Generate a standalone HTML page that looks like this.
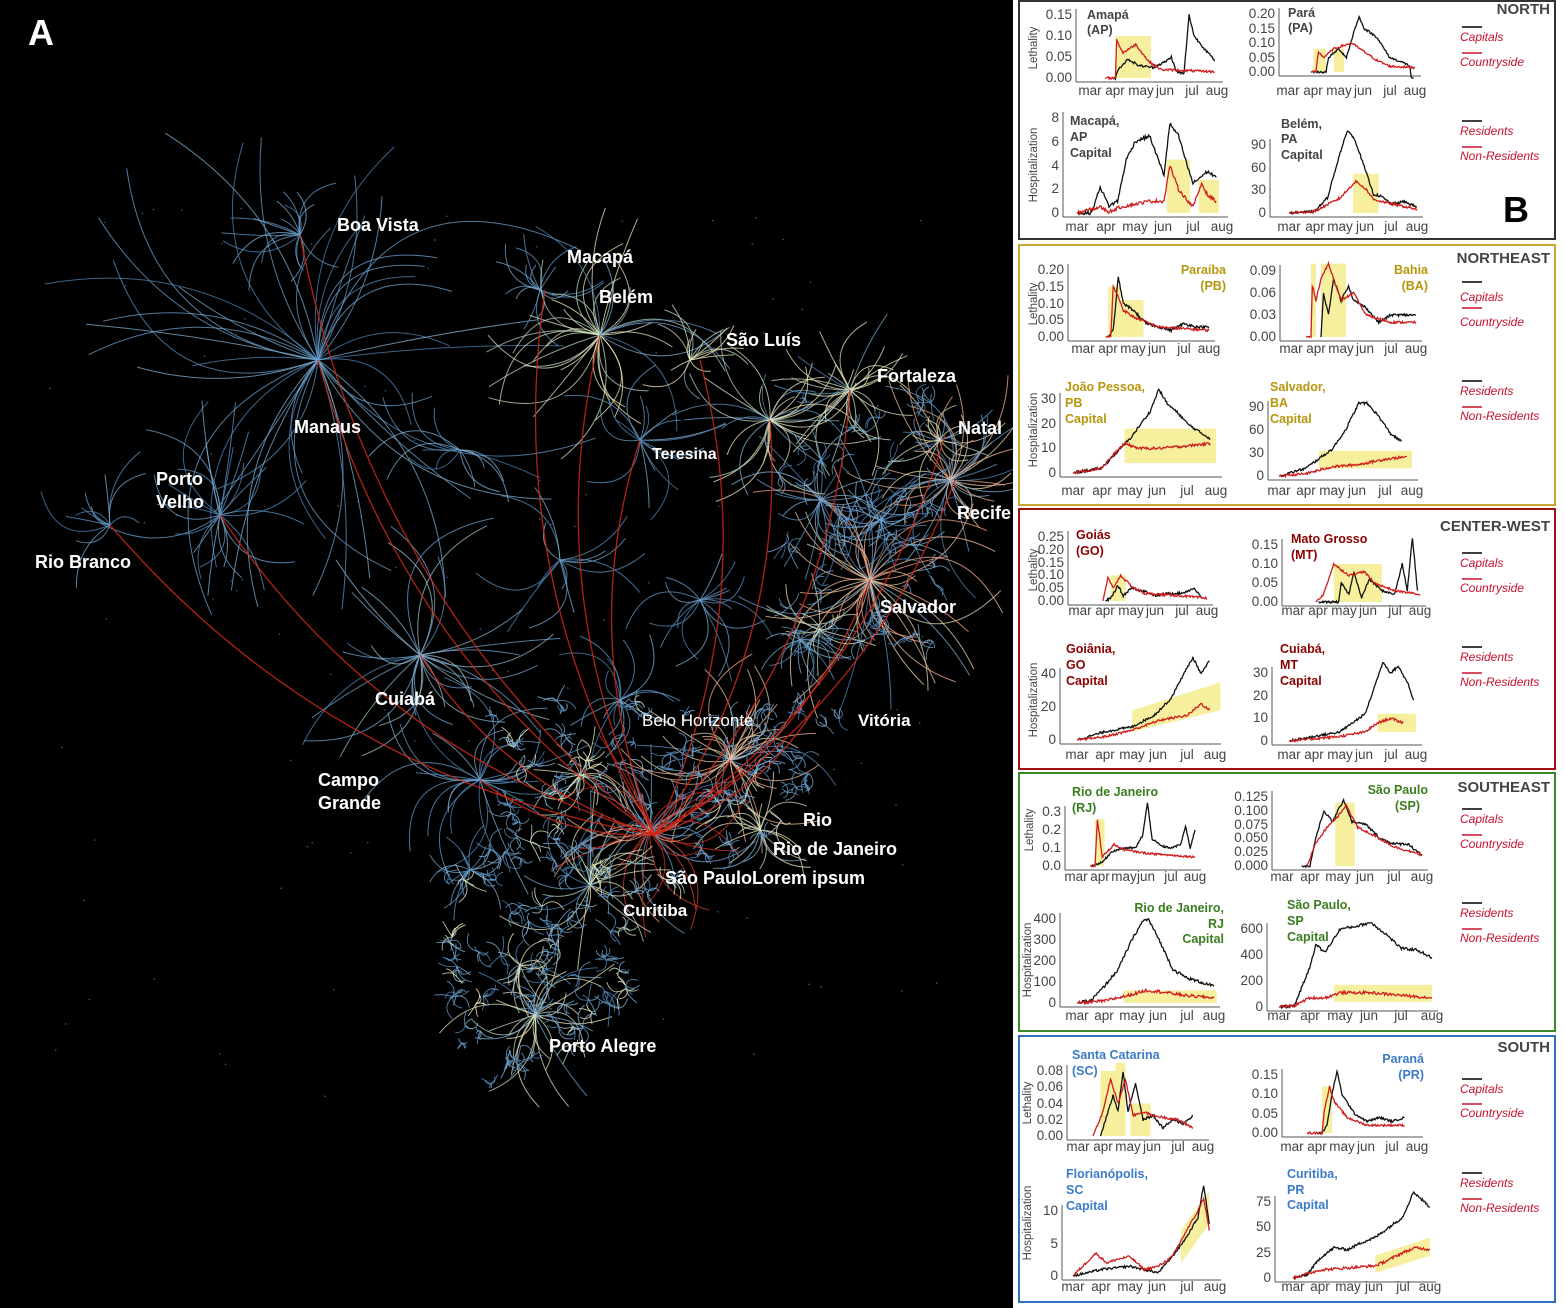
<!DOCTYPE html>
<html><head><meta charset="utf-8">
<style>
html,body{margin:0;padding:0;background:#000;}
svg{display:block}
.ml{font-family:"Liberation Sans",sans-serif;font-weight:bold;font-size:18px;fill:#fff}
.tk{font-family:"Liberation Sans",sans-serif;font-size:13.5px;fill:#444}
.ax{font-family:"Liberation Sans",sans-serif;font-size:11.5px;fill:#444}
.ti{font-family:"Liberation Sans",sans-serif;font-size:12.5px;font-weight:bold}
.rg{font-family:"Liberation Sans",sans-serif;font-size:15px;font-weight:bold;fill:#444;text-anchor:end}
.lg{font-family:"Liberation Sans",sans-serif;font-size:12px;font-style:italic;fill:#c8102e}
.r{text-anchor:end}
.m{text-anchor:middle}
</style></head>
<body>
<svg id="S" width="1565" height="1308" viewBox="0 0 1565 1308" xmlns="http://www.w3.org/2000/svg">
<rect x="0" y="0" width="1565" height="1308" fill="#000"/>
<g id="map"></g>
<g id="maplabels">
<text x="28" y="45" class="ml" style="font-size:36px">A</text>
<text x="337" y="231" class="ml">Boa Vista</text>
<text x="567" y="263" class="ml">Macapá</text>
<text x="599" y="303" class="ml">Belém</text>
<text x="726" y="346" class="ml">São Luís</text>
<text x="877" y="382" class="ml">Fortaleza</text>
<text x="958" y="434" class="ml">Natal</text>
<text x="957" y="519" class="ml">Recife</text>
<text x="294" y="433" class="ml">Manaus</text>
<text x="652" y="459" class="ml" style="font-size:16px">Teresina</text>
<text x="156" y="485" class="ml">Porto</text>
<text x="156" y="508" class="ml">Velho</text>
<text x="35" y="568" class="ml">Rio Branco</text>
<text x="880" y="613" class="ml">Salvador</text>
<text x="375" y="705" class="ml">Cuiabá</text>
<text x="318" y="786" class="ml">Campo</text>
<text x="318" y="809" class="ml">Grande</text>
<text x="642" y="726" class="ml" style="font-weight:normal;font-size:17px">Belo Horizonte</text>
<text x="858" y="726" class="ml" style="font-size:17px">Vitória</text>
<text x="803" y="826" class="ml">Rio</text>
<text x="773" y="855" class="ml">Rio de Janeiro</text>
<text x="665" y="884" class="ml">São PauloLorem ipsum</text>
<text x="623" y="916" class="ml" style="font-size:17px">Curitiba</text>
<text x="549" y="1052" class="ml">Porto Alegre</text>
</g>
<rect x="1013" y="0" width="552" height="1308" fill="#fff"/>
<rect x="1019" y="1" width="536" height="238" fill="none" stroke="#333" stroke-width="2"/>
<rect x="1019" y="245" width="536" height="260" fill="none" stroke="#c8a830" stroke-width="2"/>
<rect x="1019" y="509" width="536" height="260" fill="none" stroke="#a01010" stroke-width="2"/>
<rect x="1019" y="773" width="536" height="258" fill="none" stroke="#3a8a2a" stroke-width="2"/>
<rect x="1019" y="1036" width="536" height="266" fill="none" stroke="#3070c0" stroke-width="2"/>
<g id="charts"></g>
<g id="txt">
<text x="1550" y="14" class="rg">NORTH</text>
<text x="1550" y="263" class="rg">NORTHEAST</text>
<text x="1550" y="531" class="rg">CENTER-WEST</text>
<text x="1550" y="792" class="rg">SOUTHEAST</text>
<text x="1550" y="1052" class="rg">SOUTH</text>
<text x="1503" y="222" style="font-family:'Liberation Sans',sans-serif;font-weight:bold;font-size:36px;fill:#000">B</text>
<g stroke-width="1.5">
<line x1="1462" y1="27" x2="1482" y2="27" stroke="#000"/><line x1="1462" y1="53" x2="1482" y2="53" stroke="#c8102e"/>
<line x1="1462" y1="121" x2="1482" y2="121" stroke="#000"/><line x1="1462" y1="147" x2="1482" y2="147" stroke="#c8102e"/>
<line x1="1462" y1="282" x2="1482" y2="282" stroke="#000"/><line x1="1462" y1="308" x2="1482" y2="308" stroke="#c8102e"/>
<line x1="1462" y1="381" x2="1482" y2="381" stroke="#000"/><line x1="1462" y1="407" x2="1482" y2="407" stroke="#c8102e"/>
<line x1="1462" y1="553" x2="1482" y2="553" stroke="#000"/><line x1="1462" y1="579" x2="1482" y2="579" stroke="#c8102e"/>
<line x1="1462" y1="647" x2="1482" y2="647" stroke="#000"/><line x1="1462" y1="673" x2="1482" y2="673" stroke="#c8102e"/>
<line x1="1462" y1="809" x2="1482" y2="809" stroke="#000"/><line x1="1462" y1="835" x2="1482" y2="835" stroke="#c8102e"/>
<line x1="1462" y1="903" x2="1482" y2="903" stroke="#000"/><line x1="1462" y1="929" x2="1482" y2="929" stroke="#c8102e"/>
<line x1="1462" y1="1079" x2="1482" y2="1079" stroke="#000"/><line x1="1462" y1="1104" x2="1482" y2="1104" stroke="#c8102e"/>
<line x1="1462" y1="1173" x2="1482" y2="1173" stroke="#000"/><line x1="1462" y1="1199" x2="1482" y2="1199" stroke="#c8102e"/>
</g>
<text x="1460" y="41" class="lg">Capitals</text><text x="1460" y="66" class="lg">Countryside</text>
<text x="1460" y="135" class="lg">Residents</text><text x="1460" y="160" class="lg">Non-Residents</text>
<text x="1460" y="301" class="lg">Capitals</text><text x="1460" y="326" class="lg">Countryside</text>
<text x="1460" y="395" class="lg">Residents</text><text x="1460" y="420" class="lg">Non-Residents</text>
<text x="1460" y="567" class="lg">Capitals</text><text x="1460" y="592" class="lg">Countryside</text>
<text x="1460" y="661" class="lg">Residents</text><text x="1460" y="686" class="lg">Non-Residents</text>
<text x="1460" y="823" class="lg">Capitals</text><text x="1460" y="848" class="lg">Countryside</text>
<text x="1460" y="917" class="lg">Residents</text><text x="1460" y="942" class="lg">Non-Residents</text>
<text x="1460" y="1093" class="lg">Capitals</text><text x="1460" y="1117" class="lg">Countryside</text>
<text x="1460" y="1187" class="lg">Residents</text><text x="1460" y="1212" class="lg">Non-Residents</text>
<text class="ax m" transform="translate(1037,48) rotate(-90)">Lethality</text>
<text class="ax m" transform="translate(1037,165) rotate(-90)">Hospitalization</text>
<text class="ax m" transform="translate(1037,304) rotate(-90)">Lethality</text>
<text class="ax m" transform="translate(1037,430) rotate(-90)">Hospitalization</text>
<text class="ax m" transform="translate(1037,570) rotate(-90)">Lethality</text>
<text class="ax m" transform="translate(1037,700) rotate(-90)">Hospitalization</text>
<text class="ax m" transform="translate(1033,830) rotate(-90)">Lethality</text>
<text class="ax m" transform="translate(1031,960) rotate(-90)">Hospitalization</text>
<text class="ax m" transform="translate(1031,1103) rotate(-90)">Lethality</text>
<text class="ax m" transform="translate(1031,1223) rotate(-90)">Hospitalization</text>
<g class="ti" style="fill:#444">
<text x="1087" y="19">Amapá</text><text x="1087" y="34">(AP)</text>
<text x="1288" y="17">Pará</text><text x="1288" y="32">(PA)</text>
<text x="1070" y="125">Macapá,</text><text x="1070" y="141">AP</text><text x="1070" y="157">Capital</text>
<text x="1281" y="128">Belém,</text><text x="1281" y="143">PA</text><text x="1281" y="159">Capital</text>
</g>
<g class="ti" style="fill:#b8960c">
<text x="1226" y="274" class="r">Paraíba</text><text x="1226" y="290" class="r">(PB)</text>
<text x="1428" y="274" class="r">Bahia</text><text x="1428" y="290" class="r">(BA)</text>
<text x="1065" y="391">João Pessoa,</text><text x="1065" y="407">PB</text><text x="1065" y="423">Capital</text>
<text x="1270" y="391">Salvador,</text><text x="1270" y="407">BA</text><text x="1270" y="423">Capital</text>
</g>
<g class="ti" style="fill:#8b0000">
<text x="1076" y="539">Goiás</text><text x="1076" y="555">(GO)</text>
<text x="1291" y="543">Mato Grosso</text><text x="1291" y="559">(MT)</text>
<text x="1066" y="653">Goiânia,</text><text x="1066" y="669">GO</text><text x="1066" y="685">Capital</text>
<text x="1280" y="653">Cuiabá,</text><text x="1280" y="669">MT</text><text x="1280" y="685">Capital</text>
</g>
<g class="ti" style="fill:#3a7d1e">
<text x="1072" y="796">Rio de Janeiro</text><text x="1072" y="812">(RJ)</text>
<text x="1428" y="794" class="r">São Paulo</text><text x="1420" y="810" class="r">(SP)</text>
<text x="1224" y="912" class="r">Rio de Janeiro,</text><text x="1224" y="928" class="r">RJ</text><text x="1224" y="943" class="r">Capital</text>
<text x="1287" y="909">São Paulo,</text><text x="1287" y="925">SP</text><text x="1287" y="941">Capital</text>
</g>
<g class="ti" style="fill:#3b7bc8">
<text x="1072" y="1059">Santa Catarina</text><text x="1072" y="1075">(SC)</text>
<text x="1424" y="1063" class="r">Paraná</text><text x="1424" y="1079" class="r">(PR)</text>
<text x="1066" y="1178">Florianópolis,</text><text x="1066" y="1194">SC</text><text x="1066" y="1210">Capital</text>
<text x="1287" y="1178">Curitiba,</text><text x="1287" y="1194">PR</text><text x="1287" y="1209">Capital</text>
</g>
<g class="tk m">
<text y="95"><tspan x="1090">mar</tspan><tspan x="1115">apr</tspan><tspan x="1141">may</tspan><tspan x="1165">jun</tspan><tspan x="1192">jul</tspan><tspan x="1217">aug</tspan></text>
<text y="95"><tspan x="1288">mar</tspan><tspan x="1313">apr</tspan><tspan x="1339">may</tspan><tspan x="1363">jun</tspan><tspan x="1390">jul</tspan><tspan x="1415">aug</tspan></text>
<text y="231"><tspan x="1077">mar</tspan><tspan x="1106">apr</tspan><tspan x="1135">may</tspan><tspan x="1163">jun</tspan><tspan x="1193">jul</tspan><tspan x="1222">aug</tspan></text>
<text y="231"><tspan x="1289">mar</tspan><tspan x="1315">apr</tspan><tspan x="1340">may</tspan><tspan x="1365">jun</tspan><tspan x="1391">jul</tspan><tspan x="1417">aug</tspan></text>
<text y="353"><tspan x="1083">mar</tspan><tspan x="1108">apr</tspan><tspan x="1133">may</tspan><tspan x="1157">jun</tspan><tspan x="1184">jul</tspan><tspan x="1209">aug</tspan></text>
<text y="353"><tspan x="1291">mar</tspan><tspan x="1316">apr</tspan><tspan x="1341">may</tspan><tspan x="1365">jun</tspan><tspan x="1391">jul</tspan><tspan x="1416">aug</tspan></text>
<text y="495"><tspan x="1073">mar</tspan><tspan x="1102">apr</tspan><tspan x="1130">may</tspan><tspan x="1157">jun</tspan><tspan x="1187">jul</tspan><tspan x="1216">aug</tspan></text>
<text y="495"><tspan x="1279">mar</tspan><tspan x="1306">apr</tspan><tspan x="1332">may</tspan><tspan x="1357">jun</tspan><tspan x="1385">jul</tspan><tspan x="1412">aug</tspan></text>
<text y="615"><tspan x="1080">mar</tspan><tspan x="1105">apr</tspan><tspan x="1131">may</tspan><tspan x="1155">jun</tspan><tspan x="1182">jul</tspan><tspan x="1207">aug</tspan></text>
<text y="615"><tspan x="1293">mar</tspan><tspan x="1318">apr</tspan><tspan x="1344">may</tspan><tspan x="1368">jun</tspan><tspan x="1395">jul</tspan><tspan x="1420">aug</tspan></text>
<text y="759"><tspan x="1077">mar</tspan><tspan x="1105">apr</tspan><tspan x="1132">may</tspan><tspan x="1158">jun</tspan><tspan x="1187">jul</tspan><tspan x="1215">aug</tspan></text>
<text y="759"><tspan x="1289">mar</tspan><tspan x="1314">apr</tspan><tspan x="1340">may</tspan><tspan x="1364">jun</tspan><tspan x="1391">jul</tspan><tspan x="1416">aug</tspan></text>
<text y="881"><tspan x="1076">mar</tspan><tspan x="1100">apr</tspan><tspan x="1124">may</tspan><tspan x="1146">jun</tspan><tspan x="1171">jul</tspan><tspan x="1195">aug</tspan></text>
<text y="881"><tspan x="1282">mar</tspan><tspan x="1310">apr</tspan><tspan x="1338">may</tspan><tspan x="1365">jun</tspan><tspan x="1394">jul</tspan><tspan x="1422">aug</tspan></text>
<text y="1020"><tspan x="1077">mar</tspan><tspan x="1104">apr</tspan><tspan x="1132">may</tspan><tspan x="1158">jun</tspan><tspan x="1187">jul</tspan><tspan x="1214">aug</tspan></text>
<text y="1020"><tspan x="1279">mar</tspan><tspan x="1310">apr</tspan><tspan x="1340">may</tspan><tspan x="1369">jun</tspan><tspan x="1401">jul</tspan><tspan x="1432">aug</tspan></text>
<text y="1151"><tspan x="1078">mar</tspan><tspan x="1103">apr</tspan><tspan x="1128">may</tspan><tspan x="1152">jun</tspan><tspan x="1178">jul</tspan><tspan x="1203">aug</tspan></text>
<text y="1151"><tspan x="1292">mar</tspan><tspan x="1317">apr</tspan><tspan x="1342">may</tspan><tspan x="1366">jun</tspan><tspan x="1392">jul</tspan><tspan x="1417">aug</tspan></text>
<text y="1291"><tspan x="1073">mar</tspan><tspan x="1101">apr</tspan><tspan x="1130">may</tspan><tspan x="1157">jun</tspan><tspan x="1187">jul</tspan><tspan x="1215">aug</tspan></text>
<text y="1291"><tspan x="1293">mar</tspan><tspan x="1320">apr</tspan><tspan x="1348">may</tspan><tspan x="1374">jun</tspan><tspan x="1403">jul</tspan><tspan x="1430">aug</tspan></text>
</g>
<g class="tk r">
<text x="1072" y="19">0.15</text><text x="1072" y="40">0.10</text><text x="1072" y="61">0.05</text><text x="1072" y="82">0.00</text>
<text x="1275" y="18">0.20</text><text x="1275" y="33">0.15</text><text x="1275" y="47">0.10</text><text x="1275" y="62">0.05</text><text x="1275" y="76">0.00</text>
<text x="1059" y="122">8</text><text x="1059" y="146">6</text><text x="1059" y="170">4</text><text x="1059" y="193">2</text><text x="1059" y="217">0</text>
<text x="1266" y="149">90</text><text x="1266" y="172">60</text><text x="1266" y="194">30</text><text x="1266" y="217">0</text>
<text x="1064" y="274">0.20</text><text x="1064" y="291">0.15</text><text x="1064" y="308">0.10</text><text x="1064" y="324">0.05</text><text x="1064" y="341">0.00</text>
<text x="1276" y="275">0.09</text><text x="1276" y="297">0.06</text><text x="1276" y="319">0.03</text><text x="1276" y="341">0.00</text>
<text x="1056" y="403">30</text><text x="1056" y="428">20</text><text x="1056" y="452">10</text><text x="1056" y="477">0</text>
<text x="1264" y="411">90</text><text x="1264" y="434">60</text><text x="1264" y="457">30</text><text x="1264" y="480">0</text>
<text x="1064" y="541">0.25</text><text x="1064" y="554">0.20</text><text x="1064" y="567">0.15</text><text x="1064" y="579">0.10</text><text x="1064" y="592">0.05</text><text x="1064" y="605">0.00</text>
<text x="1278" y="549">0.15</text><text x="1278" y="568">0.10</text><text x="1278" y="587">0.05</text><text x="1278" y="606">0.00</text>
<text x="1056" y="678">40</text><text x="1056" y="711">20</text><text x="1056" y="744">0</text>
<text x="1268" y="677">30</text><text x="1268" y="700">20</text><text x="1268" y="722">10</text><text x="1268" y="745">0</text>
<text x="1061" y="816">0.3</text><text x="1061" y="834">0.2</text><text x="1061" y="852">0.1</text><text x="1061" y="870">0.0</text>
<text x="1268" y="801">0.125</text><text x="1268" y="815">0.100</text><text x="1268" y="829">0.075</text><text x="1268" y="842">0.050</text><text x="1268" y="856">0.025</text><text x="1268" y="870">0.000</text>
<text x="1056" y="923">400</text><text x="1056" y="944">300</text><text x="1056" y="965">200</text><text x="1056" y="986">100</text><text x="1056" y="1007">0</text>
<text x="1263" y="933">600</text><text x="1263" y="959">400</text><text x="1263" y="985">200</text><text x="1263" y="1011">0</text>
<text x="1063" y="1075">0.08</text><text x="1063" y="1091">0.06</text><text x="1063" y="1108">0.04</text><text x="1063" y="1124">0.02</text><text x="1063" y="1140">0.00</text>
<text x="1278" y="1079">0.15</text><text x="1278" y="1098">0.10</text><text x="1278" y="1118">0.05</text><text x="1278" y="1137">0.00</text>
<text x="1058" y="1215">10</text><text x="1058" y="1248">5</text><text x="1058" y="1280">0</text>
<text x="1271" y="1206">75</text><text x="1271" y="1231">50</text><text x="1271" y="1257">25</text><text x="1271" y="1282">0</text>
</g>
</g>
</svg>
<script>
(function(){
var NS="http://www.w3.org/2000/svg";
var seed=12345;function rnd(){seed=(seed*1103515245+12345)%2147483648;return seed/2147483648;}
function el(p,n,a){var e=document.createElementNS(NS,n);for(var k in a)e.setAttribute(k,a[k]);p.appendChild(e);return e;}
var map=document.getElementById('map');
var C={b:['#5f97c6','#6fa3cf','#7fb0d4','#4f86b8'],b2:['#8fb8d0','#9fc3c8','#6fa3cf'],c:['#e8e6b8','#d8e4c0','#f2eebc','#b8d4c8'],o:['#f4a582','#f7b89a','#eec0a0','#e8d8b0'],r:['#d7301f','#e04030','#6fa3cf','#f4a582']};
function fan(cx,cy,n,r,col,w,op,curv){
 var cs=C[col]; curv=curv||1.1;
 for(var i=0;i<n;i++){
  var a=rnd()*Math.PI*2, d=r*(0.3+0.7*rnd());
  var ex=cx+Math.cos(a)*d, ey=cy+Math.sin(a)*d;
  var mx=(cx+ex)/2, my=(cy+ey)/2, px=-(ey-cy), py=(ex-cx), s=(rnd()-0.5)*curv;
  var c=(rnd()<0.2)?C.b[Math.floor(rnd()*4)]:cs[Math.floor(rnd()*cs.length)];
  el(map,'path',{d:'M'+cx.toFixed(1)+','+cy.toFixed(1)+' Q'+(mx+px*s).toFixed(1)+','+(my+py*s).toFixed(1)+' '+ex.toFixed(1)+','+ey.toFixed(1),stroke:c,'stroke-width':w||1,fill:'none',opacity:op||0.75});
 }
}
var hubs=[[300,235,18,80,'b'],[318,360,45,290,'b'],[540,290,16,75,'b'],[600,335,40,140,'c'],[690,360,16,60,'c'],[770,420,35,110,'c'],[640,440,18,90,'b'],[850,390,30,90,'c'],[940,440,22,70,'c'],[950,480,45,130,'o'],[870,580,50,150,'o'],[820,630,16,60,'c'],[220,515,26,130,'b'],[110,525,12,80,'b'],[420,655,32,160,'b2'],[480,780,28,130,'b'],[730,760,40,110,'o'],[760,830,22,70,'c'],[650,830,50,110,'r'],[580,775,22,60,'c'],[590,885,30,100,'c'],[520,965,18,60,'c'],[535,1015,30,100,'c'],[470,870,18,60,'b'],[820,500,25,90,'b'],[880,520,25,70,'b'],[700,600,18,90,'b'],[800,640,18,60,'b'],[460,450,14,100,'b'],[560,560,14,90,'b'],[620,700,18,80,'b']];
hubs.forEach(function(h){fan(h[0],h[1],h[2],h[3],h[4],1,0.75,1.2);});
var cnt=0,tries=0;
while(cnt<160&&tries<3000){tries++;
 var x=420+rnd()*440, y=700+rnd()*400, ok=false;
 if(y<860 && x>490 && x<850-(y-700)*0.5) ok=true;
 if(y>=860 && x>435+(y-860)*0.12 && x<690-(y-860)*0.5) ok=true;
 if(!ok) continue; cnt++;
 fan(x,y,6,12+rnd()*14,rnd()<0.82?'b':'c',0.9,0.85,1.4);
}
for(var i=0;i<50;i++){fan(780+rnd()*170,400+rnd()*250,5,20,'b',0.9,0.8,1.4);}
for(var i=0;i<120;i++){el(map,'circle',{cx:40+rnd()*920,cy:200+rnd()*900,r:0.8,fill:'#5f97c6',opacity:0.6});}
var sp=[655,835];
[[300,235],[318,360],[545,290],[600,335],[700,360],[770,420],[850,390],[945,435],[955,480],[870,580],[220,515],[110,525],[420,655],[480,780],[640,440],[730,760],[820,700]].forEach(function(t,i){
 var mx=(sp[0]+t[0])/2, my=(sp[1]+t[1])/2, dx=t[0]-sp[0], dy=t[1]-sp[1];
 var s=(t[0]<sp[0])?-0.18:0.18;
 el(map,'path',{d:'M'+sp[0]+','+sp[1]+' Q'+(mx-dy*s)+','+(my+dx*s)+' '+t[0]+','+t[1],stroke:'#d02818','stroke-width':1.3,fill:'none',opacity:0.85});
});
var G=document.getElementById('charts');
function chart(ax,xm,xa,y0,yT,vT,yel,k,r){
 var X=function(t){return xm+t/5*(xa-xm);}, Y=function(v){return y0-v*(y0-yT)/vT;};
 yel.forEach(function(q){
  if(q.length==3) el(G,'rect',{x:X(q[0]),y:Y(q[2]),width:X(q[1])-X(q[0]),height:y0-Y(q[2]),fill:'#f6ef9e'});
  else el(G,'polygon',{points:X(q[0])+','+Y(q[2])+' '+X(q[0])+','+Y(q[3])+' '+X(q[1])+','+Y(q[5])+' '+X(q[1])+','+Y(q[4]),fill:'#f6ef9e'});
 });
 el(G,'line',{x1:ax,y1:yT-6,x2:ax,y2:y0+4,stroke:'#555','stroke-width':1});
 el(G,'line',{x1:ax,y1:y0+4,x2:xa+6,y2:y0+4,stroke:'#555','stroke-width':1});
 function ser(p,c){
  var pts=[];
  for(var j=0;j<p.length-1;j++){
   var a=p[j],b=p[j+1],n=Math.max(2,Math.round((b[0]-a[0])/0.03));
   for(var s=0;s<n;s++){var f=s/n, t=a[0]+(b[0]-a[0])*f, v=a[1]+(b[1]-a[1])*f;
    if(t>a[0]+0.05||j>0) v+=(rnd()-0.5)*vT*0.035;
    pts.push(X(t).toFixed(1)+','+Y(v).toFixed(1));}
  }
  var l=p[p.length-1];pts.push(X(l[0]).toFixed(1)+','+Y(l[1]).toFixed(1));
  el(G,'polyline',{points:pts.join(' '),fill:'none',stroke:c,'stroke-width':1.3});
 }
 ser(k,'#111');ser(r,'#d01c1c');
}
chart(1076,1090,1217,78,15,.15,[[1,2.4,.1]],[[0.9,0],[1.0,0],[1.1,.02],[1.5,.045],[1.9,.03],[2.5,.025],[3,.04],[3.2,.05],[3.4,.015],[3.7,.01],[3.9,.15],[4.1,.1],[4.5,.07],[4.8,.05],[4.9,.04]],[[0.6,0],[1,0],[1.05,.09],[1.3,.06],[1.8,.08],[2.3,.04],[2.8,.02],[4.9,.015]]);
chart(1279,1288,1415,72,14,.2,[[1,1.5,.08],[1.8,2.2,.08]],[[0.9,0],[1.5,0],[1.6,.05],[2,.08],[2.3,.05],[2.6,.14],[2.8,.19],[3,.15],[3.5,.12],[4,.05],[4.6,.03],[4.8,.02],[4.85,-.02],[4.95,-.02]],[[0.9,0],[1.1,0],[1.2,.07],[1.4,.05],[1.8,.08],[2.5,.1],[3,.07],[3.5,.04],[4,.02],[5,.015]]);
chart(1063,1077,1222,213,118,8,[[3.1,3.9,4.5],[4.2,4.9,2.8]],[[0,0],[0.5,0],[0.8,2.2],[1.1,.6],[1.4,1],[1.7,4.5],[2,6],[2.5,6.5],[3,3.2],[3.2,7.5],[3.5,6.5],[3.8,4],[4,2.5],[4.5,3.5],[4.8,3]],[[0,0],[0.8,.5],[1.1,.1],[1.5,.5],[2.5,1],[3,1],[3.2,4],[3.5,2],[4,.5],[4.3,2.5],[4.5,1.5],[4.8,1]]);
chart(1270,1289,1417,213,145,90,[[2.5,3.5,52]],[[0,0],[1,2],[1.5,20],[2,80],[2.3,110],[2.6,95],[3,55],[3.3,25],[3.6,22],[4,12],[4.5,15],[5,8]],[[0,0],[1,2],[2,20],[2.6,42],[3,32],[3.3,18],[4,12],[5,5]]);
chart(1068,1083,1209,337,270,.2,[[1,1.5,.15],[1.5,2.4,.11]],[[1,0],[1.2,.02],[1.4,.18],[1.6,.1],[2,.08],[2.5,.04],[3,.03],[3.5,.02],[4,.04],[4.5,.03],[5,.03]],[[0.9,0],[1.1,0],[1.2,.15],[1.4,.12],[1.6,.08],[2,.06],[3,.03],[5,.02]]);
chart(1280,1291,1416,337,271,.09,[[0.8,1,.1],[1.2,2.2,.1]],[[1.2,0],[1.3,.06],[1.5,.03],[1.7,.08],[2,.05],[2.3,.07],[2.5,.05],[3,.04],[3.5,.02],[4,.03],[5,.03]],[[0.6,0],[0.8,0],[0.85,.07],[1,.05],[1.2,.08],[1.5,.1],[2,.05],[2.5,.06],[3,.03],[4,.02],[5,.02]]);
chart(1060,1073,1216,473,399,30,[[1.8,5,4,18,4,18]],[[0,0],[1,2],[1.5,8],[2,14],[2.7,25],[3,34],[3.3,28],[3.7,24],[4,20],[4.5,16],[4.8,14]],[[0,0],[1,2],[1.3,6],[1.8,12],[2.3,10],[3,10],[4,11],[4.8,12]]);
chart(1268,1279,1412,476,407,90,[[1.5,5,10,33,10,33]],[[0,0],[1,10],[2,35],[2.5,60],[3,95],[3.3,95],[3.7,80],[4.2,55],[4.6,45]],[[0,0],[1,3],[2,12],[3,15],[4,22],[4.8,25]]);
chart(1068,1080,1207,601,537,.25,[[1.2,1.8,.1]],[[1,0],[1.2,.01],[1.5,.06],[1.7,.02],[2,.05],[2.5,.04],[3,.02],[3.5,.03],[4,.03],[4.5,.05],[4.8,.01]],[[0.9,0],[1.1,.09],[1.3,.05],[1.6,.1],[2,.06],[2.5,.03],[4,.02],[5,.01]]);
chart(1282,1293,1420,602,545,.15,[[1.6,3.5,.1]],[[1,0],[1.8,0],[1.9,.05],[2.2,.02],[2.4,.08],[2.7,.01],[3,.06],[3.5,.03],[4,.02],[4.3,.1],[4.5,.03],[4.7,.17],[4.9,.03]],[[0.9,0],[1.2,.02],[1.6,.1],[2.2,.07],[2.8,.08],[3.2,.05],[4,.03],[5,.02]]);
chart(1060,1077,1215,740,674,40,[[2,5.2,5,18,18,35]],[[0,0],[1,5],[2,8],[2.8,15],[3.4,25],[3.8,38],[4.2,50],[4.5,40],[4.8,48]],[[0,0],[1,2],[2,6],[3,12],[4,15],[4.5,22],[4.8,18]]);
chart(1272,1289,1416,741,673,30,[[3.5,5,4,12,4,12]],[[0,0],[1,2],[2,4],[3,12],[3.4,25],[3.7,35],[4,30],[4.3,33],[4.7,25],[4.9,18]],[[0,0],[2,2],[3,4],[3.5,8],[4,10],[4.5,8]]);
chart(1065,1076,1195,866,812,.3,[[0.8,1.2,.26]],[[0.6,0],[1.1,.02],[1.5,.08],[2,.1],[2.5,.1],[2.8,.17],[3,.35],[3.2,.15],[3.6,.11],[4,.1],[4.4,.12],[4.6,.22],[4.8,.1],[5,.2]],[[0.6,0],[0.8,0],[0.9,.26],[1.1,.05],[1.6,.12],[2,.09],[3,.07],[4,.06],[5,.05]]);
chart(1272,1282,1422,866,797,.125,[[1.9,2.6,.115]],[[0.7,0],[1,0],[1.2,.05],[1.5,.1],[1.8,.08],[2.2,.12],[2.5,.08],[3,.075],[3.5,.05],[4,.04],[4.5,.04],[5,.02]],[[0.9,0],[1.2,.04],[1.6,.07],[2,.09],[2.3,.11],[2.7,.07],[3.3,.055],[4,.035],[5,.02]]);
chart(1060,1077,1214,1003,919,400,[[1.7,5.1,0,60,0,60]],[[0,0],[0.5,10],[1,80],[1.5,160],[2,300],[2.4,390],[2.6,400],[3,300],[3.5,160],[4,120],[4.5,100],[5,80]],[[0,0],[1,10],[2,40],[2.5,60],[3,55],[4,35],[5,25]]);
chart(1267,1279,1432,1007,929,600,[[1.8,5,40,170,40,170]],[[0,0],[0.5,10],[1,300],[1.2,480],[1.5,420],[2,600],[2.5,620],[3,650],[3.5,560],[4,450],[4.5,440],[5,380]],[[0,0],[0.5,10],[1,70],[1.5,70],[2,110],[3,110],[4,90],[5,70]]);
chart(1067,1078,1203,1136,1071,.08,[[0.9,1.5,.08],[1.5,1.9,.09],[2.1,2.9,.04]],[[0.9,0],[1.1,.02],[1.4,.05],[1.6,.03],[1.8,.08],[2,.03],[2.3,.065],[2.6,.02],[3,.025],[3.4,.01],[3.8,.02],[4.2,.015],[4.6,.025]],[[0.6,0],[1,.03],[1.3,.07],[1.6,.04],[1.9,.07],[2.2,.025],[2.6,.03],[3,.025],[4,.02],[4.6,.01]]);
chart(1282,1292,1417,1133,1075,.15,[[1.2,1.6,.12]],[[1,0],[1.2,0],[1.4,.02],[1.6,.1],[1.8,.16],[2,.1],[2.5,.05],[3,.03],[3.5,.04],[4,.03],[4.5,.04]],[[0.6,0],[1.2,0],[1.3,.06],[1.5,.12],[1.7,.08],[2.2,.04],[3,.02],[4.5,.02]]);
chart(1062,1073,1215,1276,1211,10,[[3.8,4.8,2,7,8,13]],[[0,0],[1,1],[2,1.5],[3,.5],[3.5,3],[4,6],[4.4,9],[4.6,14],[4.8,8]],[[0,0],[0.8,3.5],[1.2,2],[1.5,2.5],[2,3],[2.5,1],[3,1.5],[3.5,3],[4,7],[4.4,10],[4.6,12],[4.8,7]]);
chart(1275,1293,1430,1278,1202,75,[[3,5,5,22,22,40]],[[0,0],[0.5,3],[1,20],[1.5,30],[2,28],[2.5,35],[3,40],[3.5,50],[4,60],[4.4,85],[4.6,80],[5,70]],[[0,0],[1,8],[2,10],[3,12],[3.5,18],[4,25],[4.5,30],[5,28]]);
})();
</script>
</body></html>
